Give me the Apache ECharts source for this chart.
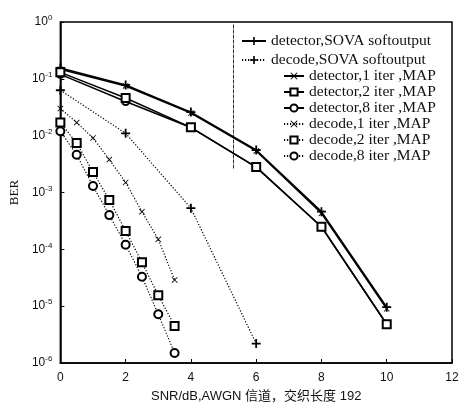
<!DOCTYPE html>
<html>
<head>
<meta charset="utf-8">
<script src="https://cdn.jsdelivr.net/npm/echarts@6/dist/echarts.min.js"></script>
<style>
  html, body { margin: 0; padding: 0; background: #fff; }
  #chart { width: 466px; height: 414px; }
</style>
</head>
<body>
<div id="chart"></div>
<script>
// SNR points (dB)
const snrDetector = [0, 2, 4, 6, 8, 10];
const snrDecodeSova = [0, 2, 4, 6];
const snrDecodeMap = [0, 0.5, 1, 1.5, 2, 2.5, 3, 3.5];

// BER values
const detSova = [0.155, 0.078, 0.026, 0.0056, 4.6e-4, 9.6e-6];
const decSova = [0.063, 0.011, 5.3e-4, 2.2e-6];
const det1 = [0.148, 0.075, 0.025, 0.0054, 4.3e-4, 9.0e-6];
const det2 = [0.13, 0.046, 0.014, 0.0028, 2.5e-4, 4.8e-6];
const det8 = [0.12, 0.040, 0.0139, 0.0028, 2.5e-4, 4.8e-6];
const dec1 = [0.030, 0.017, 0.0091, 0.0038, 0.0015, 4.6e-4, 1.5e-4, 2.9e-5];
const dec2 = [0.017, 0.0074, 0.0023, 7.4e-4, 2.1e-4, 5.9e-5, 1.55e-5, 4.5e-6];
const dec8 = [0.012, 0.0046, 0.0013, 4.0e-4, 1.2e-4, 3.3e-5, 7.2e-6, 1.5e-6];

const xTicks = [0, 2, 4, 6, 8, 10, 12];

const PLUS = 'path://M4 0h2v4h4v2h-4v4h-2v-4h-4v-2h4z';
const CROSS = 'path://M0 1L1 0L5 4L9 0L10 1L6 5L10 9L9 10L5 6L1 10L0 9L4 5Z';

function pairs(xs, ys) {
  return xs.map((x, i) => [x, ys[i]]);
}

function lineSeries(name, xs, ys, symbol, size, dotted, width, z) {
  const hollow = symbol === 'emptyRect' || symbol === 'emptyCircle';
  return {
    name,
    type: 'line',
    data: pairs(xs, ys),
    symbol,
    symbolSize: size,
    showSymbol: true,
    color: '#000',
    lineStyle: { color: '#000', width: width, type: dotted ? [1.2, 1.8] : 'solid' },
    itemStyle: {
      color: '#000',
      borderColor: '#000',
      borderWidth: hollow ? 1.5 : 0,
    },
    z: z,
    animation: false,
  };
}

const chart = echarts.init(document.getElementById('chart'));

const serif = '"Liberation Serif", "DejaVu Serif", serif';
const sans = '"Liberation Sans", Arial, sans-serif';

chart.setOption({
  animation: false,
  backgroundColor: '#fff',
  grid: {
    left: 60, right: 14, top: 22, bottom: 51,
    show: true, borderColor: '#000', borderWidth: 1.5,
  },
  legend: [
    {
      left: 236, top: 28, orient: 'vertical', itemGap: 3,
      itemWidth: 24, itemHeight: 10,
      textStyle: { fontFamily: serif, fontSize: 15.5, lineHeight: 16, color: '#111' },
      data: ['detector,SOVA softoutput', 'decode,SOVA softoutput'],
    },
    {
      left: 278, top: 63, orient: 'vertical', itemGap: 0,
      itemWidth: 20, itemHeight: 9,
      textStyle: { fontFamily: serif, fontSize: 15.5, lineHeight: 14.2, color: '#111' },
      data: [
        'detector,1 iter ,MAP', 'detector,2 iter ,MAP', 'detector,8 iter ,MAP',
        'decode,1 iter ,MAP', 'decode,2 iter ,MAP', 'decode,8 iter ,MAP',
      ],
    },
  ],
  graphic: [
    {
      type: 'line', left: 231, top: 22, silent: true,
      shape: { x1: 0, y1: 0, x2: 0, y2: 145 },
      style: { stroke: '#333', lineWidth: 1, lineDash: [4, 1] },
    },
  ],
  xAxis: {
    type: 'value', min: 0, max: 12, interval: 2,
    name: 'SNR/dB,AWGN 信道，交织长度 192',
    nameLocation: 'middle', nameGap: 27,
    nameTextStyle: { fontFamily: sans + ', "Noto Sans CJK SC"', fontSize: 13, color: '#111' },
    axisLine: { lineStyle: { color: '#000', width: 1.5 } },
    axisTick: { inside: true, length: 4, lineStyle: { color: '#000' } },
    axisLabel: {
      fontFamily: sans, fontSize: 12, color: '#111', margin: 9,
      formatter: (v) => (xTicks.includes(v) ? String(v) : ''),
    },
    splitLine: { show: false },
  },
  yAxis: {
    type: 'log', logBase: 10, min: 1e-6, max: 1,
    name: 'BER', nameLocation: 'middle', nameGap: 36,
    nameTextStyle: { fontFamily: serif, fontSize: 13, color: '#111' },
    axisLine: { lineStyle: { color: '#000', width: 1.5 } },
    axisTick: { inside: true, length: 4, lineStyle: { color: '#000' } },
    minorTick: { show: false },
    axisLabel: {
      margin: 8,
      formatter: (v) => {
        const e = Math.round(Math.log10(v));
        return '{b|10}{s|' + (e === 0 ? '0' : String(e)) + '}';
      },
      rich: {
        b: { fontFamily: sans, fontSize: 12, color: '#111' },
        s: { fontFamily: sans, fontSize: 8, color: '#111', padding: [0, 0, 8, 0] },
      },
    },
    splitLine: { show: false },
  },
  series: [
    lineSeries('detector,SOVA softoutput', snrDetector, detSova, PLUS, 9, false, 1.5, 4),
    lineSeries('decode,SOVA softoutput', snrDecodeSova, decSova, PLUS, 9, true, 1.2, 2),
    lineSeries('detector,1 iter ,MAP', snrDetector, det1, CROSS, 6, false, 1.5, 4),
    lineSeries('detector,2 iter ,MAP', snrDetector, det2, 'emptyRect', 8, false, 1.5, 4),
    lineSeries('detector,8 iter ,MAP', snrDetector, det8, 'emptyCircle', 7, false, 1.5, 3),
    lineSeries('decode,1 iter ,MAP', snrDecodeMap, dec1, CROSS, 6, true, 1.2, 2),
    lineSeries('decode,2 iter ,MAP', snrDecodeMap, dec2, 'emptyRect', 8, true, 1.2, 2),
    lineSeries('decode,8 iter ,MAP', snrDecodeMap, dec8, 'emptyCircle', 8, true, 1.2, 2),
  ],
});
</script>
</body>
</html>
